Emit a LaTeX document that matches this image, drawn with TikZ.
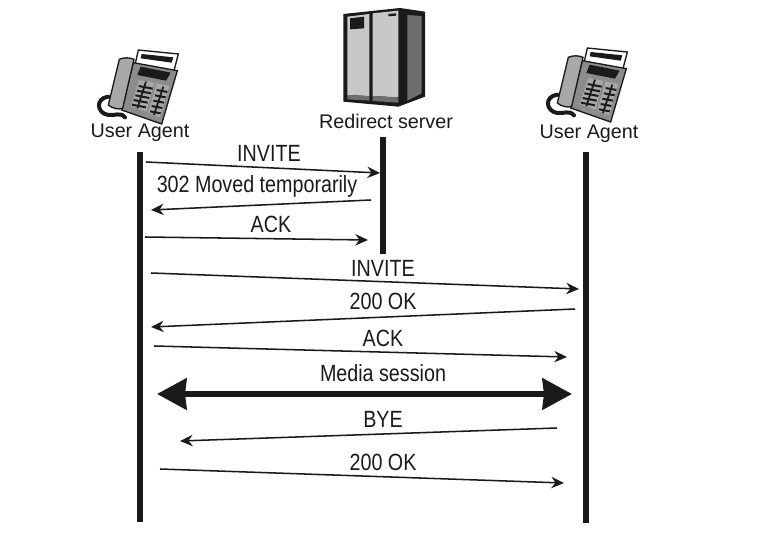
\documentclass[tikz,border=0pt]{standalone}
\usepackage{fontspec}
\setmainfont{Liberation Sans}
\newfontfamily\narrowlabel[FakeStretch=0.84]{Liberation Sans}
\usetikzlibrary{arrows.meta}
\definecolor{ink}{HTML}{1A1A1A}
\definecolor{panel}{HTML}{C8C8C8}
\definecolor{sidepanel}{HTML}{6E6E6E}
\definecolor{phonegray}{HTML}{A8A8A8}
\definecolor{phonemid}{HTML}{8C8C8C}
\tikzset{
  lifeline/.style={draw=ink,line width=4.4pt},
  msg/.style={draw=ink,line width=1.15pt,-{Stealth[length=9.5pt,width=8.5pt]}},
  media/.style={draw=ink,line width=5pt,{Stealth[length=22pt,width=23pt,inset=1pt]}-{Stealth[length=22pt,width=23pt,inset=1pt]}},
  actor/.style={font=\fontsize{14.8pt}{16pt}\selectfont,text=ink,inner sep=0pt},
  msglabel/.style={font=\narrowlabel\fontsize{17.6pt}{19pt}\selectfont,text=ink,inner sep=0pt},
  phone/.pic={
    \begin{scope}[x=0.25pt,y=-0.25pt]
      \draw[ink,line width=3pt,line cap=round] (85,200) .. controls (45,205) and (50,250) .. (85,255) .. controls (105,258) and (120,245) .. (135,262);
      \draw[ink,line width=1pt,fill=white] (175,60) -- (295,72) -- (280,130) -- (165,105) -- cycle;
      \fill[ink] (185,72) -- (280,82) -- (275,98) -- (182,85) -- cycle;
      \draw[ink,line width=1pt,fill=phonemid] (160,98) -- (292,122) -- (245,282) -- (125,240) -- cycle;
      \fill[ink] (182,110) -- (272,128) -- (258,152) -- (172,135) -- cycle;
      \fill[phonegray] (178,150) -- (222,158) -- (200,245) -- (152,228) -- cycle;
      \fill[phonegray] (230,160) -- (268,168) -- (240,262) -- (205,248) -- cycle;
      \foreach \i in {0,1,2,3,4}{
        \draw[ink,line width=1.5pt] ({176-\i*5},{168+\i*14}) -- ({218-\i*5},{176+\i*14});
        \draw[ink,line width=1.5pt] ({230-\i*5},{180+\i*16}) -- ({262-\i*5},{186+\i*16});
      }
      \draw[ink,line width=1.3pt] (198,155) -- (172,235);
      \draw[ink,line width=1.3pt] (250,170) -- (222,255);
      \draw[ink,line width=1pt,fill=phonegray] (118,88) .. controls (130,82) and (150,82) .. (162,88) -- (128,235) .. controls (118,240) and (95,235) .. (85,225) -- cycle;
    \end{scope}
  },
  server/.pic={
    \begin{scope}[x=0.25pt,y=-0.25pt]
      \fill[ink] (100,42) -- (270,24) -- (345,35) -- (345,290) -- (265,320) -- (100,305) -- cycle;
      \fill[sidepanel] (292,45) -- (335,48) -- (335,280) -- (292,302) -- cycle;
      \fill[panel] (112,50) -- (178,42) -- (178,288) -- (112,285) -- cycle;
      \fill[panel] (188,40) -- (265,32) -- (265,292) -- (188,288) -- cycle;
      \fill[ink] (120,55) -- (162,50) -- (162,85) -- (120,88) -- cycle;
      \fill[ink] (235,42) -- (258,40) -- (258,47) -- (235,49) -- cycle;
      \fill[sidepanel] (112,285) -- (178,288) -- (178,302) -- (112,298) -- cycle;
      \fill[sidepanel] (188,288) -- (265,292) -- (265,308) -- (188,303) -- cycle;
    \end{scope}
  }
}
\begin{document}
\begin{tikzpicture}[x=0.75pt,y=-0.75pt]
\useasboundingbox (0,0) rectangle (768,552);
\fill[white] (0,0) rectangle (768,552);

\pic at (80,30) {phone};
\pic at (529,28) {phone};
\pic at (310,0) {server};

\node[actor] (uaL) at (140,133) {User Agent};
\node[actor] (uaR) at (589,134) {User Agent};
\node[actor] (rs) at (386,121) {Redirect server};

\coordinate (lT) at (140,152); \coordinate (lB) at (140,522);
\coordinate (sT) at (383,137); \coordinate (sB) at (383,254);
\coordinate (rT) at (586,152); \coordinate (rB) at (586,523);
\draw[lifeline] (lT) -- (lB);
\draw[lifeline] (sT) -- (sB);
\draw[lifeline] (rT) -- (rB);

\coordinate (a1) at (146,162); \coordinate (b1) at (380,173);
\coordinate (a2) at (371,200); \coordinate (b2) at (151,210);
\coordinate (a3) at (145,237); \coordinate (b3) at (368,240);
\coordinate (a4) at (151,273); \coordinate (b4) at (579,289);
\coordinate (a5) at (575,309); \coordinate (b5) at (151,327);
\coordinate (a6) at (154,346); \coordinate (b6) at (567,357);
\coordinate (a7) at (157,394); \coordinate (b7) at (572,394);
\coordinate (a8) at (557,428); \coordinate (b8) at (180,441);
\coordinate (a9) at (160,469); \coordinate (b9) at (564,483);

\draw[msg] (a1) -- (b1);
\draw[msg] (a2) -- (b2);
\draw[msg] (a3) -- (b3);
\draw[msg] (a4) -- (b4);
\draw[msg] (a5) -- (b5);
\draw[msg] (a6) -- (b6);
\draw[media] (a7) -- (b7);
\draw[msg] (a8) -- (b8);
\draw[msg] (a9) -- (b9);

\node[msglabel] (l1) at (269,153) {INVITE};
\node[msglabel] (l2) at (257,186) {302 Moved temporarily};
\node[msglabel] (l3) at (271,224) {ACK};
\node[msglabel] (l4) at (383,268) {INVITE};
\node[msglabel] (l5) at (383,301) {200 OK};
\node[msglabel] (l6) at (383,338) {ACK};
\node[msglabel] (l7) at (383,373) {Media session};
\node[msglabel] (l8) at (383,419) {BYE};
\node[msglabel] (l9) at (383,462) {200 OK};
\end{tikzpicture}
\end{document}
